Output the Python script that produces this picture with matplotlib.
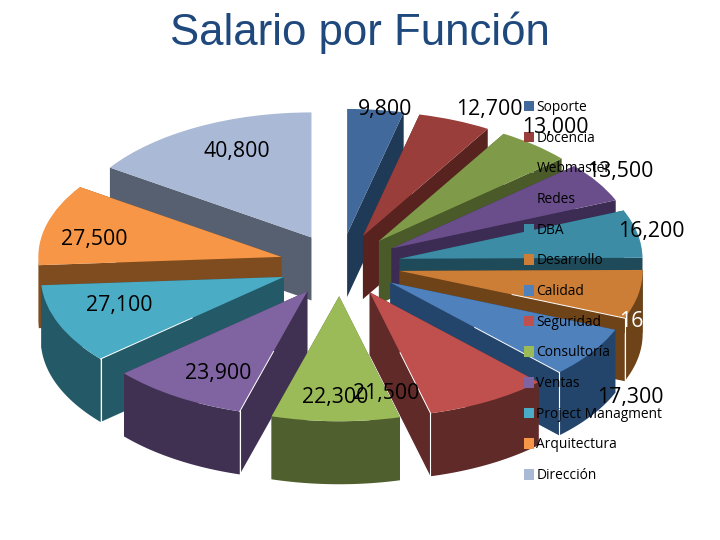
import numpy as np
import matplotlib
matplotlib.use('Agg')
import matplotlib.pyplot as plt
from matplotlib.patches import Patch

# Data
categorias = ['Soporte', 'Docencia', 'Webmaster', 'Redes', 'DBA', 'Desarrollo', 'Calidad',
              'Seguridad', 'Consultoría', 'Ventas', 'Project Managment', 'Arquitectura', 'Dirección']
salarios = [9800, 12700, 13000, 13500, 16200, 16500, 17300, 21500, 22300, 23900, 27100, 27500, 40800]
etiquetas = ['9,800', '12,700', '13,000', '13,500', '16,200', '16,500', '17,300',
             '21,500', '22,300', '23,900', '27,100', '27,500', '40,800']

# Colours: top face and side wall of every slice
colores = ['#41699B', '#9A3E3B', '#7F9A48', '#6A4E8B', '#3C8CA6', '#CC7E37', '#4F81BD',
           '#C0504D', '#9BBB59', '#8064A2', '#4BACC6', '#F79646', '#A9B9D6']
paredes = ['#1F3A56', '#58221F', '#4A5A28', '#3C2B52', '#1F4A5A', '#6F4318', '#24456B',
           '#5F2A28', '#4F5F2D', '#403152', '#245A68', '#7F4C1F', '#576070']

# Label centres in pixels
pos_etiquetas = [(385, 110), (489, 110), (555, 128), (620, 171), (651, 231), (652, 322), (630, 397),
                 (386, 393), (335, 398), (218, 374), (119, 305), (94, 240), (237, 152)]
color_etiquetas = ['black'] * 13
color_etiquetas[5] = 'white'

W, H = 720, 540
CX, CY, RX, RY = 340, 265, 243, 125
prof = 63 / RY  # depth of the walls in data units

fig = plt.figure(figsize=(7.2, 5.4), dpi=100)
ax = fig.add_axes([0, 0, 1, 1])

wedges, _ = ax.pie(salarios, colors=colores, startangle=90, counterclock=False,
                   explode=[0.25] * len(salarios), wedgeprops={'linewidth': 0})
ax.set_aspect('auto')
ax.set_xlim(-CX / RX, (W - CX) / RX)
ax.set_ylim((CY - H) / RY, CY / RY)
ax.axis('off')

# Back slices first, front slices last
orden = sorted(range(len(wedges)), key=lambda i: -wedges[i].center[1])
for z, i in enumerate(orden):
    w = wedges[i]
    zo = 2 + z
    w.set_zorder(zo + 0.5)
    cx, cy = w.center
    t = np.radians(np.linspace(w.theta1, w.theta2, 120))
    px = cx + w.r * np.cos(t)
    py = cy + w.r * np.sin(t)

    # radial walls
    for k in (0, -1):
        ax.fill([cx, px[k], px[k], cx], [cy, py[k], py[k] - prof, cy - prof],
                color=paredes[i], lw=0, zorder=zo)

    # outer wall, only the part facing the viewer
    front = np.sin(t) < 0
    if front.any():
        ax.fill(np.r_[px[front], px[front][::-1]], np.r_[py[front], py[front][::-1] - prof],
                color=paredes[i], lw=0, zorder=zo)

    # thin white edges on the visible corners
    for k, visible in ((0, np.sin(t[0]) < -0.1 and np.cos(t[0]) > 0),
                       (-1, np.sin(t[-1]) < -0.1 and np.cos(t[-1]) < 0)):
        if visible:
            ax.plot([px[k], px[k]], [py[k], py[k] - prof], color='white', lw=0.8, zorder=zo + 0.6)
            ax.plot([cx + 0.5 * (px[k] - cx), px[k]], [cy + 0.5 * (py[k] - cy), py[k]],
                    color='white', lw=0.7, zorder=zo + 0.6)

fig.text(0.5, 1 - 33 / H, 'Salario por Función', ha='center', va='center',
         fontsize=31.5, color='#1F497D', family='Liberation Sans')

handles = [Patch(facecolor=c, edgecolor='none', label=n) for c, n in zip(colores, categorias)]
leg = ax.legend(handles=handles, loc='upper left', bbox_to_anchor=(524 / W, 1 - 100 / H),
                bbox_transform=fig.transFigure, frameon=False, handlelength=0.75, handleheight=0.8,
                handletextpad=0.15, labelspacing=1.14, borderpad=0, borderaxespad=0,
                prop={'family': 'Open Sans', 'size': 9.9})
leg.set_zorder(30)

for texto, (x, y), c in zip(etiquetas, pos_etiquetas, color_etiquetas):
    fig.text(x / W, 1 - y / H, texto, ha='center', va='center', fontsize=15.3,
             color=c, family='Open Sans')

fig.savefig('out.png', dpi=100)
